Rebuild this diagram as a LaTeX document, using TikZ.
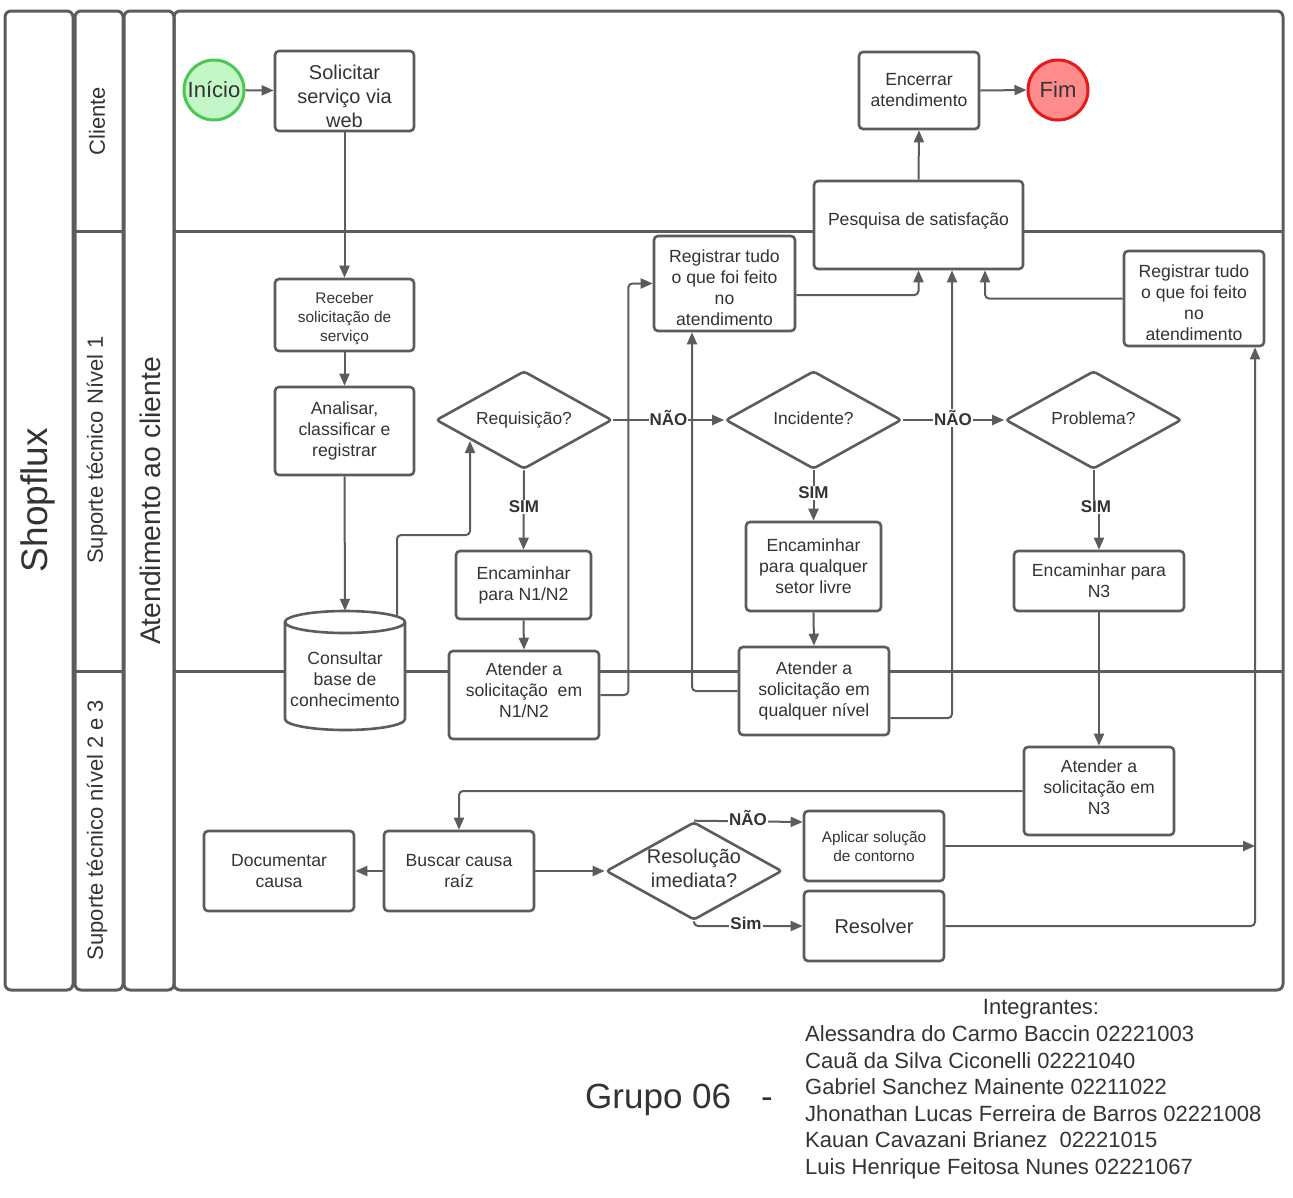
\documentclass[tikz,border=0pt]{standalone}
\usepackage{fontspec}
\setmainfont{Liberation Sans}
\usetikzlibrary{shapes.geometric,arrows.meta,calc}
\definecolor{ln}{HTML}{5C5C5C}
\definecolor{tx}{HTML}{333333}
\definecolor{gfill}{HTML}{C3F7C8}
\definecolor{gline}{HTML}{4CC752}
\definecolor{rfill}{HTML}{FF8C8C}
\definecolor{rline}{HTML}{E41A1A}
\tikzset{
  frame/.style={draw=ln, line width=3pt, rounded corners=6pt},
  box/.style={draw=ln, line width=2.6pt, rounded corners=4pt, fill=white, align=center, text=tx, inner sep=0pt, font=\fontsize{17.6}{21}\selectfont},
  bigtxt/.style={font=\fontsize{20}{24}\selectfont},
  smalltxt/.style={font=\fontsize{15.4}{19}\selectfont},
  dec/.style={diamond, aspect=1.8, draw=ln, line width=2.6pt, rounded corners=3pt, fill=white, align=center, text=tx, inner sep=0pt, minimum width=176pt, minimum height=98pt, font=\fontsize{17.4}{21}\selectfont},
  arr/.style={draw=ln, line width=2pt, rounded corners=4pt, -{Triangle[length=12pt,width=10pt]}},
  lbl/.style={fill=white, text=tx, inner sep=1pt, font=\bfseries\fontsize{17}{20}\selectfont},
  lane/.style={text=tx, rotate=90, font=\fontsize{22}{26}\selectfont},
  memb/.style={text=tx, anchor=base west, inner sep=0pt, font=\fontsize{22}{26}\selectfont},
}
\begin{document}
\begin{tikzpicture}[x=1pt,y=-1pt]
\useasboundingbox (0,0) rectangle (1293,1197);
% frames
\draw[frame] (5,11) rectangle (73,990);
\draw[frame] (75,11) rectangle (123,990);
\draw[frame] (124,11) rectangle (174,990);
\draw[frame] (174,11) rectangle (1283,990);
\draw[draw=ln, line width=3pt] (75,231) -- (123,231) (174,231) -- (1283,231);
\draw[draw=ln, line width=3pt] (75,671) -- (123,671) (174,671) -- (1283,671);
% lane labels
\node[text=tx, rotate=90, font=\fontsize{37}{44}\selectfont] (shop) at (38,500) {Shopflux};
\node[lane] (lcli) at (97,121) {Cliente};
\node[lane] (ln1) at (97,450) {Suporte técnico Nível 1};
\node[lane] (ln23) at (97,830) {Suporte técnico nível 2 e 3};
\node[text=tx, rotate=90, font=\fontsize{28.3}{34}\selectfont] (aten) at (150,501) {Atendimento ao cliente};

% nodes
\node[circle, draw=gline, fill=gfill, line width=3pt, minimum size=60pt, inner sep=0pt, text=tx, font=\fontsize{22}{26}\selectfont] (ini) at (214,90) {Início};
\node[box, bigtxt, minimum width=139pt, minimum height=80pt] (sol) at (344.5,91) {\rule{0pt}{24.6pt}Solicitar\\serviço via\\web};
\node[circle, draw=rline, fill=rfill, line width=3pt, minimum size=60pt, inner sep=0pt, text=tx, font=\fontsize{22}{26}\selectfont] (fim) at (1058,90) {Fim};
\node[box, minimum width=120pt, minimum height=77pt] (enc) at (919,90.5) {Encerrar\\atendimento};
\node[box, minimum width=209pt, minimum height=88pt] (pesq) at (918.5,225) {Pesquisa de satisfação\rule[-11.7pt]{0pt}{11.7pt}};
\node[box, minimum width=141pt, minimum height=95pt] (regA) at (724.5,283.5) {\rule{0pt}{21.8pt}Registrar tudo\\o que foi feito\\no\\atendimento};
\node[box, minimum width=140pt, minimum height=95pt] (regB) at (1194,298.5) {\rule{0pt}{21pt}Registrar tudo\\o que foi feito\\no\\atendimento};
\node[box, smalltxt, minimum width=139pt, minimum height=72pt] (rec) at (344.5,315) {\rule{0pt}{19.2pt}Receber\\solicitação de\\serviço};
\node[box, minimum width=139pt, minimum height=88pt] (ana) at (344.5,431) {Analisar,\\classificar e\\registrar};
\node[dec] (req) at (524,420) {Requisição?};
\node[dec] (inc) at (813.5,420) {Incidente?\rule[-4pt]{0pt}{4pt}};
\node[dec] (prob) at (1093.5,420) {Problema?\rule[-4pt]{0pt}{4pt}};
\node[box, minimum width=135pt, minimum height=68pt] (eN12) at (523.5,585) {Encaminhar\\para N1/N2};
\node[box, minimum width=135pt, minimum height=89pt] (eQ) at (813.5,566.5) {Encaminhar\\para qualquer\\setor livre};
\node[box, minimum width=170pt, minimum height=60pt] (eN3) at (1099,581) {Encaminhar para\\N3};
% cylinder
\path[fill=white] (285,622) -- (285,719) arc[start angle=180,end angle=0,x radius=60,y radius=11] -- (405,622) arc[start angle=0,end angle=-180,x radius=60,y radius=11] -- cycle;
\draw[draw=ln, line width=2.6pt] (285,622) -- (285,719) arc[start angle=180,end angle=0,x radius=60,y radius=11] -- (405,622);
\draw[draw=ln, line width=2.6pt] (345,622) ellipse[x radius=60,y radius=11];
\node[align=center, text=tx, inner sep=0pt, minimum width=120pt, minimum height=119pt, font=\fontsize{17.6}{21}\selectfont] (kb) at (345,670.5) {\rule{0pt}{30.8pt}Consultar\\base de\\conhecimento};
\node[box, minimum width=150pt, minimum height=88pt] (aN12) at (524,695) {Atender a\\solicitação~ em\\N1/N2\rule[-9.5pt]{0pt}{9.5pt}};
\node[box, minimum width=150pt, minimum height=88pt] (aQ) at (814,691) {Atender a\\solicitação em\\qualquer nível};
\node[box, minimum width=150pt, minimum height=88pt] (aN3) at (1099,791) {Atender a\\solicitação em\\N3\rule[-8pt]{0pt}{8pt}};
\node[box, minimum width=150pt, minimum height=80pt] (doc) at (279,871) {Documentar\\causa};
\node[box, minimum width=150pt, minimum height=80pt] (bus) at (459,871) {Buscar causa\\raíz};
\node[dec, font=\fontsize{19.9}{24}\selectfont] (res) at (694,871) {Resolução\\imediata?\rule[-6pt]{0pt}{6pt}};
\node[box, smalltxt, minimum width=140pt, minimum height=70pt] (apl) at (874,846) {Aplicar solução\\de contorno};
\node[box, bigtxt, minimum width=140pt, minimum height=70pt] (rsv) at (874,926) {Resolver};

% coordinates
\coordinate (kbo) at (397,617);
\coordinate (reqin) at (470,441);
\coordinate (jn) at (1255,846);

% connectors
\draw[arr] (ini) -- (sol);
\draw[arr] (sol.south) -- (rec.north);
\draw[arr] (rec.south) -- (ana.north);
\draw[arr] (ana.south) -- (kb.north);
\draw[arr] (kbo) -- (397,535) -- (470,535) -- (reqin);
\draw[arr] (req.east) -- (inc.west);
\draw[arr] (req.south) -- (eN12.north);
\draw[arr] (eN12.south) -- (aN12.north);
\draw[arr] (aN12.east) -- ++(28,0) |- (regA.west);
\draw[arr] ($(regA.east)+(0,11.5)$) -| (pesq.south);
\draw[arr] (inc.east) -- (prob.west);
\draw[arr] (inc.south) -- (eQ.north);
\draw[arr] (eQ.south) -- (aQ.north);
\draw[arr] (aQ.west) -| ($(regA.south)+(-32.5,0)$);
\draw[arr] ($(aQ.east)+(0,27)$) -| ($(pesq.south)+(33.5,0)$);
\draw[arr, rounded corners=0pt] (prob.south) -- (1093.5,507) -- (1099,507) -- (eN3.north);
\draw[arr] (eN3.south) -- (aN3.north);
\draw[arr] (aN3.west) -| (bus.north);
\draw[arr] (bus.west) -- (doc.east);
\draw[arr] (bus.east) -- (res.west);
\draw[arr] (res.north) -- ($(apl.west)+(0,-24)$);
\draw[arr] (res.south) |- (rsv.west);
\draw[arr] (apl.east) -- (jn);
\draw[arr] (rsv.east) -| ($(regB.south)+(61,0)$);
\draw[arr] (regB.west) -| ($(pesq.south)+(66.5,0)$);
\draw[arr] (pesq.north) -- (enc.south);
\draw[arr] (enc.east) -- (fim.west);

% labels on connectors
\node[lbl] (l1) at (668.5,418) {NÃO};
\node[lbl] (l2) at (953,418) {NÃO};
\node[lbl] (l3) at (524,507) {SIM};
\node[lbl] (l4) at (813.5,493) {SIM};
\node[lbl] (l5) at (1096,507) {SIM};
\node[lbl] (l6) at (748,818) {NÃO};
\node[lbl] (l7) at (746,923) {Sim};

% bottom text
\node[text=tx, anchor=base, font=\fontsize{22}{26}\selectfont] (integ) at (1041,1014) {Integrantes:};
\node[memb] (m1) at (805,1041) {Alessandra do Carmo Baccin 02221003};
\node[memb] (m2) at (805,1068) {Cauã da Silva Ciconelli 02221040};
\node[memb] (m3) at (805,1094) {Gabriel Sanchez Mainente 02211022};
\node[memb] (m4) at (805,1121) {Jhonathan Lucas Ferreira de Barros 02221008};
\node[memb] (m5) at (805,1147) {Kauan Cavazani Brianez~ 02221015};
\node[memb] (m6) at (805,1174) {Luis Henrique Feitosa Nunes 02221067};
\node[text=tx, anchor=base west, inner sep=0pt, font=\fontsize{35}{40}\selectfont] (grp) at (585,1108) {Grupo 06};
\node[text=tx, anchor=base, font=\fontsize{35}{40}\selectfont] (dash) at (767,1108) {-};
\end{tikzpicture}
\end{document}
